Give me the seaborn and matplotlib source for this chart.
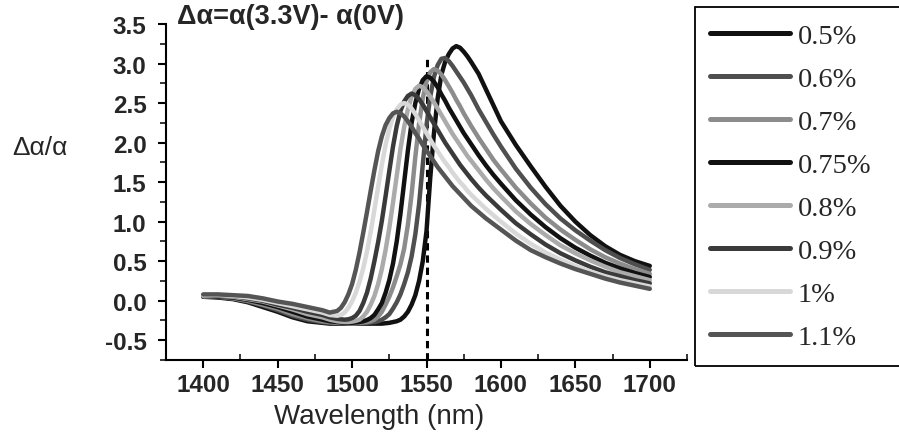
import numpy as np
import pandas as pd
import seaborn as sns
import matplotlib
matplotlib.use("Agg")
import matplotlib.pyplot as plt
from matplotlib.lines import Line2D
from matplotlib.patches import Rectangle
from matplotlib.ticker import MultipleLocator

# ---------------- data ----------------
wavelength = [1400, 1410, 1420, 1430, 1440, 1450, 1460, 1470, 1480, 1485,
              1490, 1492.5, 1495, 1497.5, 1500, 1502.5, 1505, 1507.5, 1510, 1512.5,
              1515, 1517.5, 1520, 1522.5, 1525, 1527.5, 1530, 1532.5, 1535, 1537.5,
              1540, 1542.5, 1545, 1547.5, 1550, 1552.5, 1555, 1557.5, 1560, 1562.5,
              1565, 1567.5, 1570, 1572.5, 1575, 1577.5, 1580,
              1585, 1590, 1595, 1600,
              1610, 1620, 1630, 1640, 1650, 1660, 1670, 1680, 1690, 1700]

labels = ["0.5%", "0.6%", "0.7%", "0.75%", "0.8%", "0.9%", "1%", "1.1%"]

s_05 = [0.05, 0.04, 0.02, -0.02, -0.08, -0.14, -0.21, -0.26, -0.28, -0.29,
        -0.29, -0.29, -0.29, -0.29, -0.29, -0.29, -0.29, -0.29, -0.29, -0.29,
        -0.29, -0.29, -0.29, -0.285, -0.28, -0.27, -0.26, -0.24, -0.20, -0.14,
        -0.05, 0.07, 0.25, 0.50, 0.88, 1.55, 2.12, 2.56, 2.86, 3.02,
        3.12, 3.19, 3.22, 3.20, 3.15, 3.09, 3.02,
        2.87, 2.67, 2.47, 2.27,
        1.97, 1.70, 1.44, 1.20, 1.00, 0.83, 0.69, 0.58, 0.50, 0.44]
s_06 = [0.05, 0.05, 0.03, -0.01, -0.06, -0.12, -0.19, -0.24, -0.27, -0.28,
        -0.28, -0.285, -0.29, -0.29, -0.29, -0.29, -0.29, -0.285, -0.28, -0.275,
        -0.27, -0.26, -0.24, -0.21, -0.17, -0.10, -0.02, 0.08, 0.21, 0.36,
        0.56, 0.84, 1.22, 1.72, 2.22, 2.58, 2.83, 2.98, 3.06, 3.07,
        3.03, 2.97, 2.90, 2.83, 2.76, 2.68, 2.60,
        2.42, 2.26, 2.10, 1.95,
        1.67, 1.43, 1.22, 1.04, 0.89, 0.76, 0.64, 0.54, 0.46, 0.39]
s_07 = [0.06, 0.05, 0.03, 0.00, -0.05, -0.10, -0.17, -0.22, -0.26, -0.27,
        -0.28, -0.28, -0.28, -0.285, -0.29, -0.285, -0.28, -0.275, -0.27, -0.26,
        -0.24, -0.20, -0.14, -0.05, 0.05, 0.17, 0.31, 0.46, 0.66, 0.96,
        1.35, 1.82, 2.24, 2.56, 2.77, 2.89, 2.93, 2.91, 2.86, 2.79,
        2.71, 2.63, 2.54, 2.46, 2.37, 2.29, 2.21,
        2.06, 1.92, 1.78, 1.66,
        1.43, 1.23, 1.05, 0.90, 0.77, 0.65, 0.55, 0.47, 0.40, 0.34]
s_075 = [0.06, 0.05, 0.04, 0.01, -0.03, -0.08, -0.14, -0.20, -0.24, -0.26,
         -0.27, -0.275, -0.28, -0.28, -0.28, -0.275, -0.27, -0.26, -0.245, -0.22,
         -0.18, -0.11, -0.03, 0.10, 0.26, 0.47, 0.75, 1.10, 1.50, 1.90,
         2.25, 2.50, 2.68, 2.79, 2.84, 2.82, 2.77, 2.70, 2.61, 2.53,
         2.44, 2.36, 2.28, 2.20, 2.12, 2.05, 1.98,
         1.84, 1.71, 1.59, 1.48,
         1.27, 1.09, 0.93, 0.79, 0.67, 0.57, 0.48, 0.41, 0.35, 0.30]
s_08 = [0.06, 0.06, 0.05, 0.02, -0.01, -0.06, -0.11, -0.17, -0.21, -0.24,
        -0.26, -0.265, -0.27, -0.27, -0.265, -0.255, -0.24, -0.20, -0.14, -0.05,
        0.06, 0.21, 0.40, 0.64, 0.92, 1.24, 1.58, 1.92, 2.20, 2.42,
        2.58, 2.68, 2.72, 2.70, 2.65, 2.58, 2.51, 2.43, 2.35, 2.27,
        2.19, 2.11, 2.04, 1.97, 1.90, 1.83, 1.77,
        1.65, 1.53, 1.42, 1.32,
        1.13, 0.97, 0.83, 0.70, 0.60, 0.51, 0.43, 0.36, 0.31, 0.26]
s_09 = [0.07, 0.06, 0.06, 0.03, 0.00, -0.05, -0.09, -0.14, -0.18, -0.21,
        -0.23, -0.235, -0.24, -0.235, -0.22, -0.19, -0.13, -0.03, 0.10, 0.28,
        0.50, 0.74, 1.01, 1.32, 1.64, 1.95, 2.21, 2.40, 2.52, 2.59,
        2.62, 2.60, 2.55, 2.48, 2.40, 2.32, 2.24, 2.16, 2.08, 2.00,
        1.93, 1.86, 1.79, 1.72, 1.66, 1.60, 1.54,
        1.43, 1.33, 1.24, 1.15,
        0.98, 0.84, 0.71, 0.60, 0.51, 0.43, 0.36, 0.31, 0.26, 0.22]
s_10 = [0.07, 0.07, 0.06, 0.04, 0.01, -0.03, -0.07, -0.11, -0.15, -0.18,
        -0.19, -0.18, -0.15, -0.09, -0.01, 0.10, 0.24, 0.41, 0.62, 0.87,
        1.15, 1.44, 1.72, 1.97, 2.17, 2.32, 2.42, 2.48, 2.50, 2.48,
        2.43, 2.36, 2.28, 2.20, 2.12, 2.04, 1.96, 1.89, 1.82, 1.75,
        1.69, 1.62, 1.56, 1.50, 1.45, 1.39, 1.34,
        1.25, 1.16, 1.08, 1.00,
        0.85, 0.72, 0.61, 0.52, 0.44, 0.37, 0.31, 0.26, 0.22, 0.18]
s_11 = [0.08, 0.08, 0.07, 0.06, 0.03, -0.01, -0.04, -0.08, -0.12, -0.15,
        -0.13, -0.09, -0.02, 0.08, 0.21, 0.39, 0.61, 0.86, 1.12, 1.39,
        1.65, 1.89, 2.08, 2.22, 2.31, 2.37, 2.39, 2.37, 2.33, 2.27,
        2.20, 2.12, 2.05, 1.97, 1.90, 1.83, 1.76, 1.69, 1.63, 1.57,
        1.51, 1.45, 1.40, 1.35, 1.30, 1.25, 1.20,
        1.12, 1.04, 0.97, 0.90,
        0.76, 0.64, 0.55, 0.47, 0.40, 0.34, 0.28, 0.23, 0.19, 0.15]

colors = ["#111111", "#4f4f4f", "#8c8c8c", "#111111",
          "#ababab", "#3a3a3a", "#d8d8d8", "#555555"]

x_ticks = [1400, 1450, 1500, 1550, 1600, 1650, 1700]
y_ticks = [-0.5, 0.0, 0.5, 1.0, 1.5, 2.0, 2.5, 3.0, 3.5]
ref_wavelength = 1550
ref_top = 3.1

# ---------------- figure ----------------
sns.set_style("ticks")
plt.rcParams['font.family'] = ['Liberation Sans', 'DejaVu Sans']

series = [s_05, s_06, s_07, s_075, s_08, s_09, s_10, s_11]
for s in series:
    assert len(s) == len(wavelength), len(s)
df = pd.DataFrame({
    "wavelength": wavelength * len(series),
    "value": sum(series, []),
    "series": np.repeat(labels, len(wavelength)),
})

W, H = 899, 435
fig = plt.figure(figsize=(W / 100, H / 100), dpi=100)
ax = fig.add_axes([166 / W, 1 - 361 / H, (687 - 166) / W, (361 - 25) / H])

ax.vlines(ref_wavelength, -0.75, ref_top, colors="black",
          linestyles=(0, (2.4, 1.6)), linewidth=2.2, zorder=1)

sns.lineplot(data=df, x="wavelength", y="value", hue="series",
             hue_order=labels, palette=colors, linewidth=3.2,
             estimator=None, legend=False, ax=ax, zorder=2)

ax.set_xlim(1375, 1725)
ax.set_ylim(-0.75, 3.5)
ax.set_xticks(x_ticks, labels=[str(v) for v in x_ticks], fontweight="bold")
ax.set_yticks(y_ticks, labels=[f"{v:.1f}" for v in y_ticks], fontweight="bold")
ax.xaxis.set_minor_locator(MultipleLocator(25))
ax.yaxis.set_minor_locator(MultipleLocator(0.25))
ax.tick_params(which="major", direction="out", length=6, width=1.5,
               labelsize=17.5, color="black")
ax.tick_params(axis="x", which="major", pad=3)
ax.tick_params(axis="y", which="major", pad=8)
ax.tick_params(axis="x", which="minor", direction="in", length=4, width=1.3)
ax.tick_params(axis="y", which="minor", direction="out", length=4, width=1.3)
sns.despine(ax=ax)
for side in ("left", "bottom"):
    ax.spines[side].set_linewidth(1.5)
    ax.spines[side].set_color("black")

ax.set_xlabel("Wavelength (nm)", fontsize=20)
ax.xaxis.set_label_coords((379 - 166) / (687 - 166), -(417 - 361) / (361 - 25))
ax.xaxis.label.set_va("center")
ax.set_ylabel("Δα/α", fontsize=19, rotation=0, ha="left", va="center")
ax.yaxis.set_label_coords(-(166 - 12) / (687 - 166), 1 - (148 - 25) / (361 - 25))

fig.text(177 / W, 1 - 17 / H, "Δα=α(3.3V)- α(0V)", fontsize=19.5,
         fontweight="bold", ha="left", va="center")

# legend box (extends past the right edge as in the reference)
fig.add_artist(Rectangle((695 / W, 1 - 367 / H), (910 - 695) / W, (367 - 8) / H,
                         transform=fig.transFigure, fill=False,
                         edgecolor="black", linewidth=1.3, clip_on=False))
handles = [Line2D([], [], color=c, linewidth=3.6) for c in colors]
fig.legend(handles, labels, loc="upper left",
           bbox_to_anchor=(710 / W, 1 - 24 / H), frameon=False,
           prop={"family": "Liberation Serif", "size": 20.5},
           handlelength=2.8, handletextpad=0.28, labelspacing=0.6,
           borderpad=0, borderaxespad=0)

fig.savefig("out.png", dpi=100)
